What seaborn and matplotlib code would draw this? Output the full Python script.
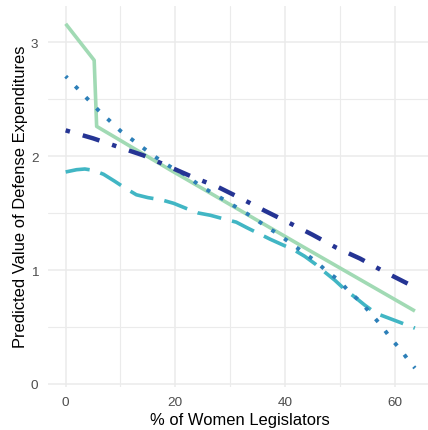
import matplotlib
matplotlib.use("Agg")
import matplotlib.pyplot as plt
from matplotlib.ticker import MultipleLocator
import pandas as pd
import seaborn as sns

# Predicted defense expenditures by share of women legislators, four model specifications
x_solid = [0, 5.2, 5.65, 19.0, 42.7, 63.7]
y_solid = [3.16, 2.84, 2.26, 1.88, 1.22, 0.64]

x_longdash = [0, 2, 3.5, 5, 6.9, 8.9, 10.8, 12.9, 15, 17.5, 19.7, 22, 24.2, 26.4,
              28.7, 31.1, 33.1, 35.2, 37.3, 39.6, 41.5, 43.6, 45.6, 47.3, 49.1,
              50.9, 52.8, 54.6, 56.6, 58.8, 61.0, 63.7]
y_longdash = [1.86, 1.88, 1.886, 1.875, 1.84, 1.78, 1.72, 1.66, 1.635, 1.615, 1.585,
              1.54, 1.50, 1.48, 1.45, 1.42, 1.37, 1.32, 1.27, 1.22, 1.18, 1.12, 1.05,
              0.98, 0.91, 0.83, 0.76, 0.69, 0.62, 0.58, 0.54, 0.49]

x_dotted = [0, 2, 4, 6, 8, 10, 12.5, 15, 17, 19.3, 22, 24.2, 26.6, 29.1, 31.5, 33.9,
            36.3, 38.6, 40.9, 43.2, 45.5, 47.6, 49.8, 51.7, 53.8, 55.8, 57.6, 59.3,
            61.1, 62.8, 63.7]
y_dotted = [2.70, 2.60, 2.50, 2.40, 2.31, 2.22, 2.13, 2.04, 1.97, 1.90, 1.83, 1.75,
            1.68, 1.61, 1.54, 1.47, 1.39, 1.32, 1.24, 1.16, 1.08, 0.99, 0.91, 0.81,
            0.72, 0.61, 0.51, 0.40, 0.30, 0.19, 0.14]

x_dotdash = [0, 5, 9.6, 14.2, 18.7, 23.2, 27.7, 32.1, 36.3, 40.7, 45.0, 49.4, 53.7,
             58.1, 62.4, 63.7]
y_dotdash = [2.225, 2.155, 2.08, 2.005, 1.91, 1.815, 1.73, 1.625, 1.52, 1.415, 1.31,
             1.195, 1.10, 0.985, 0.88, 0.85]

x_ticks = [0, 20, 40, 60]
y_ticks = [0, 1, 2, 3]

sns.set_theme(style="whitegrid")
plt.rcParams["font.family"] = ["Liberation Sans", "DejaVu Sans"]
plt.rcParams["lines.scale_dashes"] = False

W, H = 428, 431
fig = plt.figure(figsize=(W / 100, H / 100), dpi=100)
left, right, top, bottom = 48.2, 432.4, 7.0, 387.5
ax = fig.add_axes([left / W, 1 - bottom / H, (right - left) / W, (bottom - top) / H])

series = [
    (x_solid, y_solid, "#a1dab4", 2.6, None),
    (x_longdash, y_longdash, "#41b6c4", 2.6, (0, (17.5, 8.0))),
    (x_dotted, y_dotted, "#2c7fb8", 2.8, (1.0, (2.8, 8.2))),
    (x_dotdash, y_dotdash, "#253494", 3.2, (0, (3.2, 9.6, 12.6, 9.6))),
]

for xs, ys, color, lw, dash in series:
    df = pd.DataFrame({"x": xs, "y": ys})
    sns.lineplot(data=df, x="x", y="y", color=color, linewidth=lw, ax=ax,
                 sort=False, legend=False)
    line = ax.lines[-1]
    line.set_solid_capstyle("butt")
    line.set_dash_capstyle("butt")
    line.set_solid_joinstyle("round")
    if dash is not None:
        line.set_linestyle(dash)

ax.set_xlim(-3.185, 66.885)
ax.set_ylim(-0.022, 3.316)
ax.set_xticks(x_ticks)
ax.set_yticks(y_ticks)
ax.set_xticklabels([str(v) for v in x_ticks])
ax.set_yticklabels([str(v) for v in y_ticks])
ax.xaxis.set_minor_locator(MultipleLocator(10))
ax.yaxis.set_minor_locator(MultipleLocator(0.5))

ax.set_facecolor("white")
ax.grid(which="major", color="#ebebeb", linewidth=1.1)
ax.grid(which="minor", color="#ebebeb", linewidth=0.8)
ax.set_axisbelow(True)
for s in ax.spines.values():
    s.set_visible(False)

ax.tick_params(axis="both", which="both", length=0, labelsize=9.7,
               labelcolor="#4d4d4d")
ax.tick_params(axis="x", pad=7)
ax.tick_params(axis="y", pad=7)

ax.set_xlabel("% of Women Legislators", fontsize=11.9, color="black", labelpad=3)
ax.set_ylabel("Predicted Value of Defense Expenditures", fontsize=11.9,
              color="black", labelpad=2)

fig.savefig("out.png", dpi=100, facecolor="white")
